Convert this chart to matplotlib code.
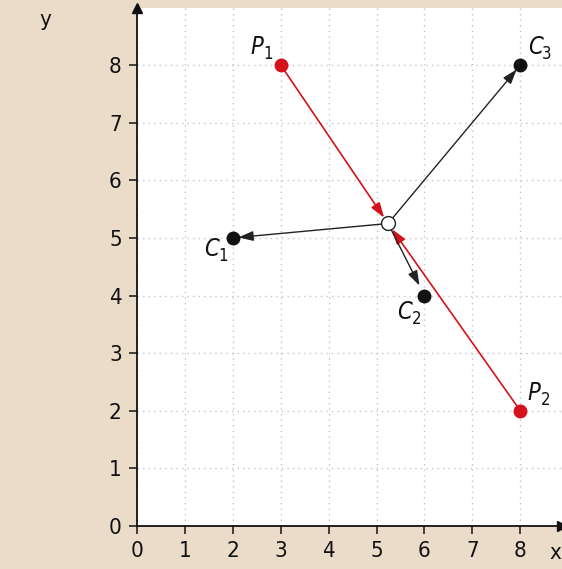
import matplotlib
matplotlib.use("Agg")
import matplotlib.pyplot as plt

# ---- data ----
x_ticks = [0, 1, 2, 3, 4, 5, 6, 7, 8]
y_ticks = [0, 1, 2, 3, 4, 5, 6, 7, 8]
p_letters = ["P", "P"]
p_subs = ["1", "2"]
p_x = [3, 8]
p_y = [8, 2]
c_letters = ["C", "C", "C"]
c_subs = ["1", "2", "3"]
c_x = [2, 6, 8]
c_y = [5, 4, 8]
center_x = 5.24
center_y = 5.25

BEIGE = "#ebdbc9"
RED = "#d3121c"
INK = "#111111"

plt.rcParams["font.family"] = ["DejaVu Sans"]
plt.rcParams["font.stretch"] = "condensed"

fig = plt.figure(figsize=(5.62, 5.69), dpi=100, facecolor=BEIGE)
ax = fig.add_axes([137 / 562, 43 / 569, 1 - 137 / 562, (526 - 8) / 569])
ax.set_facecolor("white")
ax.set_xlim(0, 8.87)
ax.set_ylim(0, 8.99)

for s in ["top", "right"]:
    ax.spines[s].set_visible(False)
for s in ["left", "bottom"]:
    ax.spines[s].set_linewidth(1.3)
    ax.spines[s].set_color(INK)

ax.set_xticks(x_ticks)
ax.set_yticks(y_ticks)
ax.tick_params(axis="both", length=6, width=1.1, color=INK,
               labelsize=16, pad=5, labelcolor=INK)
for lab in ax.get_xticklabels() + ax.get_yticklabels():
    lab.set_fontstretch("condensed")
ax.grid(True, linestyle=(0, (1, 3)), color="#c4c4c4", linewidth=1.0)
ax.set_axisbelow(True)

ax.plot([0], [1.0], marker="^", color=INK, markersize=7,
        transform=ax.transAxes, clip_on=False)
ax.plot([1.0], [0], marker=">", color=INK, markersize=7,
        transform=ax.transAxes, clip_on=False)

fig.text(45 / 562, 1 - 20 / 569, "y", fontsize=16, ha="center", va="center",
         color=INK, fontstretch="condensed")
fig.text(561 / 562, 1 - 553 / 569, "x", fontsize=16, ha="right", va="center",
         color=INK, fontstretch="condensed")

for px, py in zip(p_x, p_y):
    ax.annotate("", xy=(center_x, center_y), xytext=(px, py),
                arrowprops=dict(arrowstyle="-|>,head_length=0.9,head_width=0.3",
                                color=RED, lw=1.2, shrinkA=0, shrinkB=5,
                                mutation_scale=10))

shrinks = [4, 8, 4]
for cx, cy, sb in zip(c_x, c_y, shrinks):
    ax.annotate("", xy=(cx, cy), xytext=(center_x, center_y),
                arrowprops=dict(arrowstyle="-|>,head_length=0.9,head_width=0.3",
                                color="#222222", lw=1.0, shrinkA=5, shrinkB=sb,
                                mutation_scale=10))

ax.plot(p_x, p_y, "o", color=RED, markersize=9, zorder=5, linestyle="none")
ax.plot(c_x, c_y, "o", color=INK, markersize=9, zorder=5, linestyle="none")
ax.plot([center_x], [center_y], "o", markerfacecolor="white",
        markeredgecolor="#222222", markersize=10, markeredgewidth=1.0, zorder=6)


def label(x, y, letter, sub, dx, dy):
    ax.annotate(letter, xy=(x, y), xytext=(dx, dy), textcoords="offset points",
                fontsize=17, style="italic", fontstretch="condensed",
                ha="center", va="center", color=INK)
    ax.annotate(sub, xy=(x, y), xytext=(dx + 8, dy - 5), textcoords="offset points",
                fontsize=12, fontstretch="condensed",
                ha="center", va="center", color=INK)


p_off = [(-17, 13), (10, 13)]
for L, S, px, py, (dx, dy) in zip(p_letters, p_subs, p_x, p_y, p_off):
    label(px, py, L, S, dx, dy)
c_off = [(-15, -8), (-14, -12), (11, 13)]
for L, S, cx, cy, (dx, dy) in zip(c_letters, c_subs, c_x, c_y, c_off):
    label(cx, cy, L, S, dx, dy)

fig.savefig("out.png", dpi=100, facecolor=BEIGE)
